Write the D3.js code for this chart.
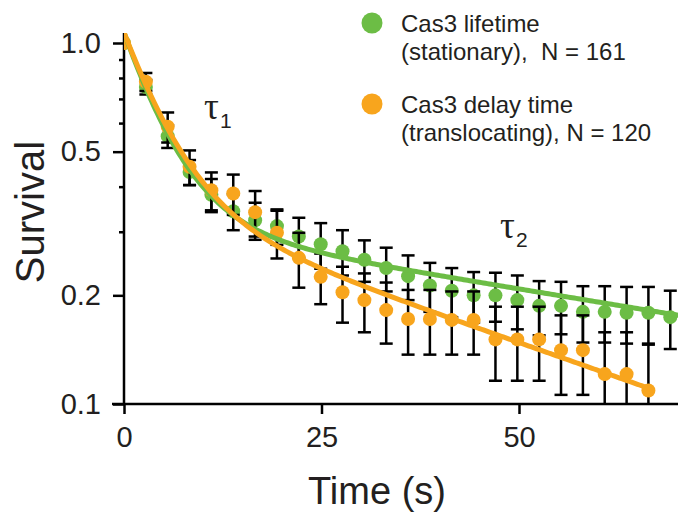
<!DOCTYPE html>
<html>
<head>
<meta charset="utf-8">
<script src="https://cdn.jsdelivr.net/npm/d3@7"></script>
<style>
  body { margin: 0; background: #fff; }
  svg { display: block; font-family: "Liberation Sans", Arial, sans-serif; }
</style>
</head>
<body>
<svg id="chart" width="678" height="515"></svg>
<script>
// survival data
const times = [0, 2.77, 5.53, 8.3, 11.06, 13.83, 16.6, 19.36, 22.13, 24.9, 27.66, 30.43, 33.19,
  35.96, 38.72, 41.49, 44.26, 47.02, 49.79, 52.55, 55.32, 58.09, 60.85, 63.62, 66.38, 69.15];
const stationary = [1.0, 0.755, 0.552, 0.439, 0.38, 0.342, 0.323, 0.311, 0.291, 0.277, 0.265, 0.251, 0.238,
  0.226, 0.213, 0.206, 0.2, 0.2, 0.194, 0.187, 0.187, 0.18, 0.18, 0.179, 0.179, 0.174];
const stationaryErr = [0, 0.035, 0.04, 0.035, 0.04, 0.039, 0.038, 0.035, 0.037, 0.04, 0.038, 0.033, 0.033,
  0.032, 0.033, 0.032, 0.032, 0.031, 0.033, 0.032, 0.031, 0.032, 0.032, 0.032, 0.032, 0.032];
const translocating = [1.0, 0.781, 0.586, 0.454, 0.391, 0.383, 0.34, 0.298, 0.254, 0.225, 0.204, 0.194, 0.182,
  0.172, 0.172, 0.171, 0.171, 0.151, 0.151, 0.151, 0.141, 0.141, 0.121, 0.121, 0.109];
const translocatingErr = [0, 0.045, 0.056, 0.05, 0.047, 0.049, 0.049, 0.045, 0.044, 0.036, 0.036, 0.036, 0.035,
  0.035, 0.035, 0.034, 0.034, 0.035, 0.035, 0.035, 0.035, 0.035, 0.037, 0.037, 0.037];

// biexponential fits: [A1, tau1, A2, tau2]
const stationaryFit = [0.754, 5.16, 0.316, 120];
const translocatingFit = [0.711, 5.37, 0.359, 56.4];

const xTicks = [0, 25, 50];
const yMajor = [0.1, 0.2, 0.5, 1.0];
const yMinor = [0.3, 0.4, 0.6, 0.7, 0.8, 0.9];
const legendLines = [["Cas3 lifetime", "(stationary),  N = 161"], ["Cas3 delay time", "(translocating), N = 120"]];

const ink = "#231f20";
const green = "#6cbd45";
const orange = "#f8a51d";

const svg = d3.select("#chart");

const x = d3.scaleLinear().domain([0, 70]).range([124, 677]);
const y = d3.scaleLog().domain([0.1, 1]).range([404, 43]);
const plotTop = 33;

svg.append("defs").append("clipPath")
    .attr("id", "clip")
    .append("rect")
    .attr("x", 124).attr("y", plotTop)
    .attr("width", 678 - 124).attr("height", 404 - plotTop);

// axes
const yMinorAxis = svg.append("g")
    .attr("transform", "translate(124,0)")
    .call(d3.axisLeft(y).tickValues(yMinor).tickSize(5).tickFormat(""));
const yMajorAxis = svg.append("g")
    .attr("transform", "translate(124,0)")
    .call(d3.axisLeft(y).tickValues(yMajor).tickSize(11).tickPadding(12).tickFormat(d3.format(".1f")));
const xAxis = svg.append("g")
    .attr("transform", "translate(0,404)")
    .call(d3.axisBottom(x).tickValues(xTicks).tickSize(10).tickPadding(12));

[yMinorAxis, yMajorAxis, xAxis].forEach(a => {
    a.select(".domain").remove();
    a.selectAll(".tick line").attr("stroke", "#000").attr("stroke-width", 2.5);
    a.selectAll(".tick text").attr("fill", ink).style("font-size", "29px")
        .style("font-family", "'Liberation Sans', Arial, sans-serif");
});

svg.append("line")
    .attr("x1", 124).attr("x2", 124).attr("y1", plotTop).attr("y2", 405)
    .attr("stroke", "#000").attr("stroke-width", 2.5);
svg.append("line")
    .attr("x1", 112).attr("x2", 678).attr("y1", 404).attr("y2", 404)
    .attr("stroke", "#000").attr("stroke-width", 2.5);

// axis titles
svg.append("text")
    .attr("transform", "translate(44,212) rotate(-90)")
    .attr("text-anchor", "middle")
    .attr("fill", ink)
    .style("font-size", "40px")
    .text("Survival");

svg.append("text")
    .attr("x", 377).attr("y", 504)
    .attr("text-anchor", "middle")
    .attr("fill", ink)
    .style("font-size", "38px")
    .text("Time (s)");

const series = [
    { values: stationary, err: stationaryErr, fit: stationaryFit, color: green, tEnd: 71 },
    { values: translocating, err: translocatingErr, fit: translocatingFit, color: orange,
      tEnd: times[translocating.length - 1] }
];

const plot = svg.append("g").attr("clip-path", "url(#clip)");
const capW = 6.5;

series.forEach(s => {
    const pts = s.values.map((v, i) => ({ t: times[i], v: v, e: s.err[i] }));
    const bars = plot.append("g")
        .attr("stroke", "#000")
        .attr("stroke-width", 2.5)
        .selectAll("g")
        .data(pts.filter(d => d.e > 0))
        .join("g");
    bars.append("line")
        .attr("x1", d => x(d.t)).attr("x2", d => x(d.t))
        .attr("y1", d => y(d.v + d.e)).attr("y2", d => d.v - d.e > 0.1 ? y(d.v - d.e) : 410);
    bars.append("line")
        .attr("x1", d => x(d.t) - capW).attr("x2", d => x(d.t) + capW)
        .attr("y1", d => y(d.v + d.e)).attr("y2", d => y(d.v + d.e));
    bars.filter(d => d.v - d.e > 0.1).append("line")
        .attr("x1", d => x(d.t) - capW).attr("x2", d => x(d.t) + capW)
        .attr("y1", d => y(d.v - d.e)).attr("y2", d => y(d.v - d.e));

    plot.append("g")
        .selectAll("circle")
        .data(pts)
        .join("circle")
        .attr("cx", d => x(d.t))
        .attr("cy", d => y(d.v))
        .attr("r", 7)
        .attr("fill", s.color);
});

const line = d3.line().x(d => x(d[0])).y(d => y(d[1]));
series.forEach(s => {
    const [a1, t1, a2, t2] = s.fit;
    const ts = d3.range(0, s.tEnd, 0.25).concat([s.tEnd]);
    plot.append("path")
        .datum(ts.map(t => [t, a1 * Math.exp(-t / t1) + a2 * Math.exp(-t / t2)]))
        .attr("fill", "none")
        .attr("stroke", s.color)
        .attr("stroke-width", 5)
        .attr("d", line);
});

// tau annotations
function tau(px, py, sub) {
    const t = svg.append("text")
        .attr("x", px).attr("y", py)
        .attr("fill", ink)
        .style("font-family", "'Liberation Serif', 'Times New Roman', serif")
        .style("font-size", "37px");
    t.append("tspan").text("\u03c4");
    t.append("tspan").attr("dx", 1).attr("dy", 9).style("font-size", "21px")
        .style("font-family", "'Liberation Sans', Arial, sans-serif").text(sub);
}
tau(204, 119, "1");
tau(500, 238, "2");

// legend
const legend = svg.append("g");
legendLines.forEach((lines, i) => {
    const cy = 23 + i * 81;
    legend.append("circle")
        .attr("cx", 372).attr("cy", cy).attr("r", 10.5)
        .attr("fill", i === 0 ? green : orange);
    lines.forEach((txt, j) => {
        legend.append("text")
            .attr("x", 401).attr("y", cy + 9 + j * 28)
            .attr("fill", ink)
            .style("font-size", "24px")
            .style("white-space", "pre")
            .text(txt);
    });
});
</script>
</body>
</html>
